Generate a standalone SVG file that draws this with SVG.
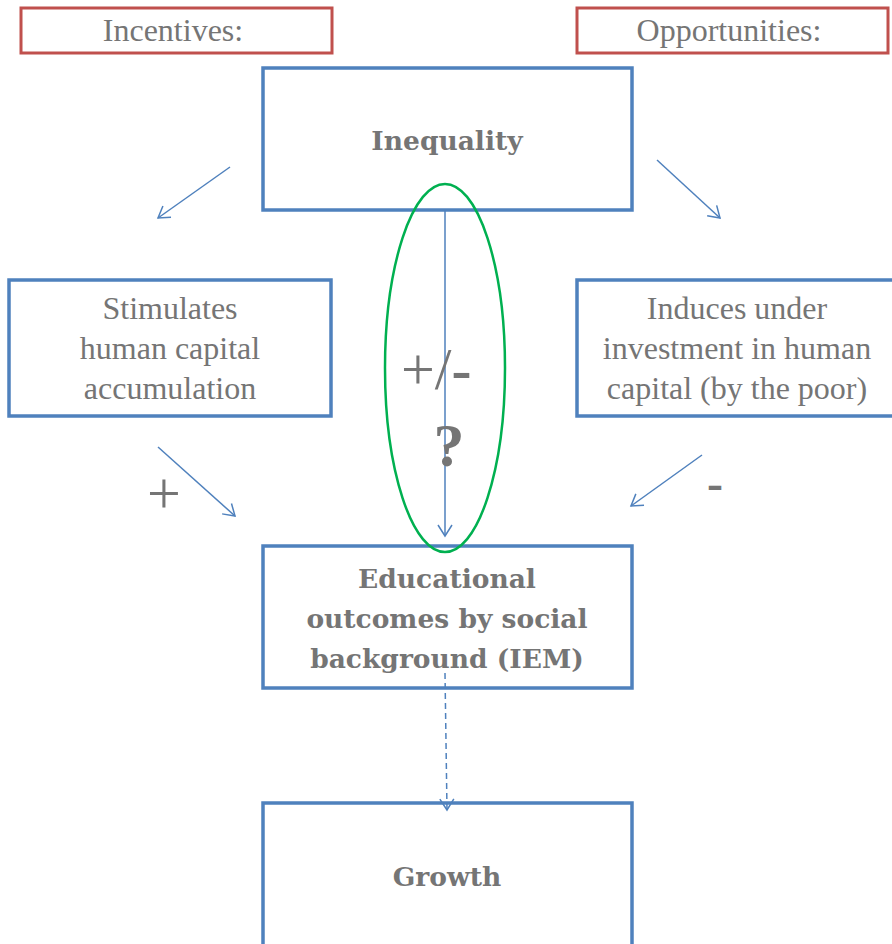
<svg xmlns="http://www.w3.org/2000/svg" width="892" height="944" viewBox="0 0 892 944">
<style>
.red{fill:#fff;stroke:#C0504D;stroke-width:3}
.blue{fill:#fff;stroke:#4F81BD;stroke-width:3.5}
.reg{font-family:"Liberation Serif","Times New Roman",serif;font-size:32px;fill:#757575;text-anchor:middle}
.bold{font-family:"DejaVu Serif",serif;font-weight:bold;font-size:26.5px;fill:#757575;text-anchor:middle}
.sym{font-family:"Liberation Serif","Times New Roman",serif;fill:#757575}
.conn{stroke:#4F81BD;stroke-width:1.5;fill:none}
</style>
<defs>
<marker id="arr" markerUnits="userSpaceOnUse" markerWidth="24" markerHeight="24" refX="12" refY="12" orient="auto" viewBox="0 0 24 24">
<polyline points="1,5 12,12 1,19" fill="none" stroke="#4F81BD" stroke-width="1.5"/>
</marker>
</defs>
<g id="incentives"><rect class="red" x="21" y="8" width="311" height="45"/><text class="reg" x="173" y="41">Incentives:</text></g>
<g id="opportunities"><rect class="red" x="577" y="8" width="311" height="45"/><text class="reg" x="729" y="41">Opportunities:</text></g>
<g id="inequality"><rect class="blue" x="263" y="68" width="369" height="142"/><text class="bold" x="447" y="150">Inequality</text></g>
<g id="stimulates"><rect class="blue" x="9" y="280" width="322" height="136"/><text class="reg" x="170" y="319">Stimulates</text><text class="reg" x="170" y="359">human capital</text><text class="reg" x="170" y="399">accumulation</text></g>
<g id="induces"><rect class="blue" x="577" y="280" width="320" height="136"/><text class="reg" x="737" y="319">Induces under</text><text class="reg" x="737" y="359">investment in human</text><text class="reg" x="737" y="399">capital (by the poor)</text></g>
<g id="educational"><rect class="blue" x="263" y="546" width="369" height="142"/><text class="bold" x="447" y="588">Educational</text><text class="bold" x="447" y="628">outcomes by social</text><text class="bold" x="447" y="668">background (IEM)</text></g>
<g id="growth"><rect class="blue" x="263" y="803" width="369" height="150"/><text class="bold" x="447" y="886">Growth</text></g>
<g id="connectors">
<line class="conn" x1="230" y1="167" x2="158" y2="218" marker-end="url(#arr)"/>
<line class="conn" x1="657" y1="160" x2="720" y2="218" marker-end="url(#arr)"/>
<line class="conn" x1="158" y1="447" x2="235" y2="516" marker-end="url(#arr)"/>
<line class="conn" x1="702" y1="455" x2="631" y2="506" marker-end="url(#arr)"/>
<line class="conn" x1="445" y1="211" x2="445" y2="536" marker-end="url(#arr)"/>
<line class="conn" x1="445" y1="673" x2="447" y2="810" stroke-width="2" stroke-dasharray="6,4" marker-end="url(#arr)"/>
</g>
<g id="question">
<ellipse cx="445" cy="368" rx="60" ry="184" fill="none" stroke="#00B050" stroke-width="2.5"/>
<text class="sym" x="401" y="389" font-size="60">+/<tspan font-weight="bold">-</tspan></text>
<text class="sym" x="449" y="466" font-size="62" font-weight="bold" text-anchor="middle">?</text>
</g>
<text class="sym" x="147" y="513" font-size="60">+</text>
<text class="sym" x="707" y="499" font-size="48" font-weight="bold">-</text>
</svg>
